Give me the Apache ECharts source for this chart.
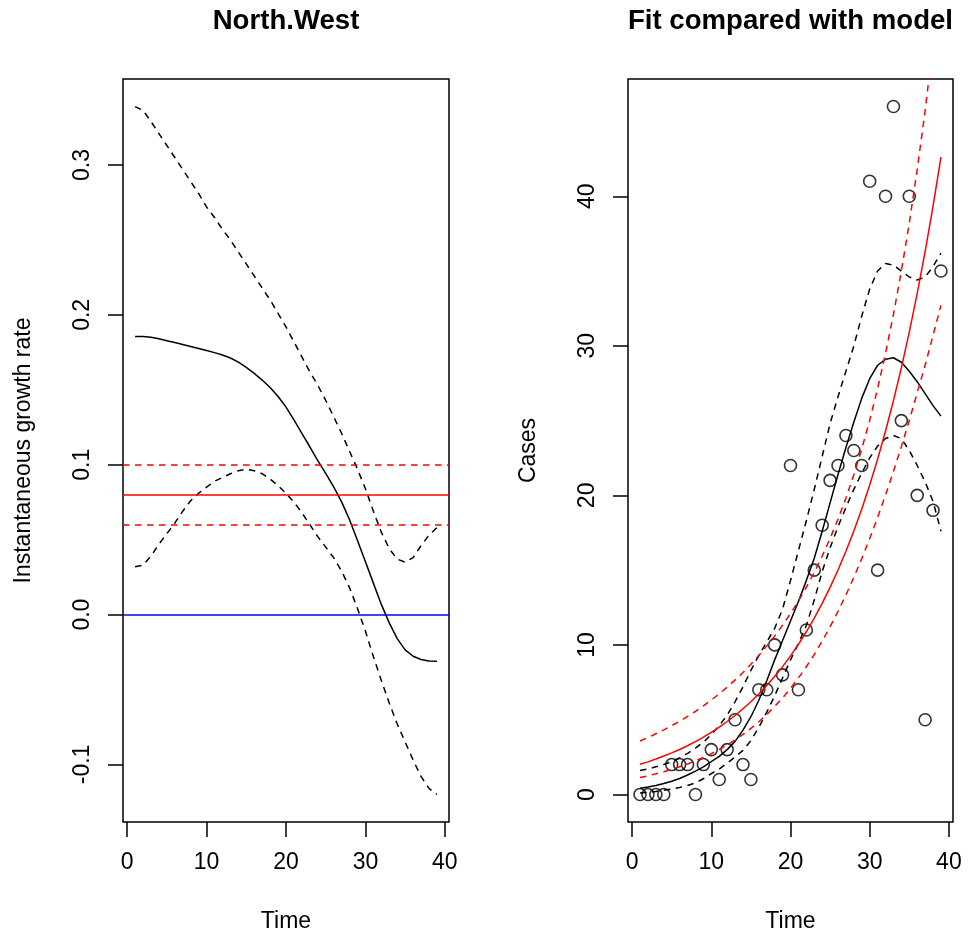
<!DOCTYPE html>
<html>
<head>
<meta charset="utf-8">
<script src="https://cdn.jsdelivr.net/npm/echarts@6/dist/echarts.min.js"></script>
<style>
html,body{margin:0;padding:0;background:#fff;}
#c{width:968px;height:940px;}
</style>
</head>
<body>
<div id="c"></div>
<script>
// ---------- data ----------
const time = [1,2,3,4,5,6,7,8,9,10,11,12,13,14,15,16,17,18,19,20,21,22,23,24,25,26,27,28,29,30,31,32,33,34,35,36,37,38,39];

// left panel: instantaneous growth rate
const growthEst = [0.1856,0.1855,0.1850,0.1840,0.1828,0.1815,0.1802,0.1789,0.1776,0.1762,0.1748,0.1732,0.1712,0.1685,0.1650,0.1610,0.1565,0.1515,0.1455,0.1385,0.1300,0.1210,0.1120,0.1028,0.0942,0.0852,0.0752,0.0633,0.0495,0.0352,0.0210,0.0068,-0.0055,-0.0160,-0.0235,-0.0278,-0.0300,-0.0310,-0.0312];
const growthUpper = [0.339,0.3365,0.329,0.321,0.313,0.305,0.297,0.289,0.281,0.272,0.265,0.257,0.250,0.242,0.234,0.226,0.218,0.210,0.201,0.192,0.182,0.172,0.162,0.153,0.143,0.132,0.121,0.109,0.097,0.084,0.069,0.055,0.044,0.037,0.035,0.038,0.046,0.053,0.058];
const growthLower = [0.032,0.033,0.039,0.047,0.054,0.061,0.069,0.076,0.081,0.085,0.089,0.0915,0.094,0.096,0.097,0.096,0.094,0.0905,0.086,0.081,0.075,0.068,0.060,0.052,0.045,0.038,0.029,0.018,0.004,-0.011,-0.028,-0.044,-0.059,-0.073,-0.085,-0.097,-0.108,-0.116,-0.120];
const modelRate = 0.0805;
const modelRateLower = 0.0618;
const modelRateUpper = 0.1005;
const zeroRate = 0;

// right panel: cases, fit and model
const cases = [0,0,0,0,2,2,2,0,2,3,1,3,5,2,1,7,7,10,8,22,7,11,15,18,21,22,24,23,22,41,15,40,46,25,40,20,5,19,35];
const fitMean = [0.41,0.5,0.6,0.73,0.88,1.07,1.3,1.56,1.85,2.2,2.55,3.0,3.55,4.3,5.2,6.3,7.6,9.0,10.3,11.6,12.9,14.3,15.8,17.6,19.5,21.4,23.2,24.9,26.5,27.8,28.7,29.1,29.2,28.9,28.3,27.6,26.8,26.0,25.3];
const fitUpper = [1.6,1.7,1.85,2.0,2.2,2.45,2.75,3.1,3.5,4.0,4.6,5.3,6.2,7.2,8.3,9.3,10.2,11.1,12.4,14.3,16.3,18.3,20.4,22.6,24.8,26.6,28.3,30.0,32.0,33.8,35.0,35.5,35.4,35.0,34.6,34.4,34.6,35.3,36.2];
const fitLower = [0.1,0.14,0.2,0.28,0.37,0.47,0.6,0.78,1.05,1.4,1.7,2.09,2.5,2.95,3.6,4.5,5.5,6.6,7.8,9.0,10.1,11.3,13.0,14.9,16.5,17.9,19.2,20.4,21.5,22.5,23.3,23.8,24.0,23.8,23.0,22.0,20.9,19.6,17.6];
const modelMean = [2.02,2.18,2.37,2.57,2.78,3.01,3.26,3.54,3.83,4.15,4.50,4.88,5.28,5.73,6.20,6.72,7.29,7.89,8.55,9.27,10.04,10.88,11.79,12.78,13.85,15.01,16.26,17.62,19.09,20.69,22.42,24.30,26.33,28.53,30.91,33.50,36.30,39.34,42.62];
const modelUpper = [3.58,3.81,4.06,4.32,4.60,4.90,5.22,5.56,5.93,6.32,6.73,7.18,7.65,8.16,8.71,9.29,9.92,10.59,11.32,12.10,12.94,13.86,14.85,15.94,17.12,18.41,19.82,21.38,23.11,25.02,27.14,29.49,32.10,35.00,38.20,41.78,45.72,50.2,55.1];
const modelLower = [1.13,1.25,1.38,1.52,1.68,1.85,2.04,2.25,2.48,2.73,3.01,3.31,3.65,4.02,4.42,4.86,5.35,5.88,6.46,7.10,7.79,8.54,9.36,10.25,11.21,12.24,13.34,14.52,15.77,17.11,18.52,20.02,21.60,23.26,25.01,26.86,28.7,30.7,32.7];

// tick labels
const xTicks = [0,10,20,30,40];
const yTicksLeft = [-0.1,0.0,0.1,0.2,0.3];
const yTicksRight = [0,10,20,30,40];

// titles / labels
const titles = ['North.West','Fit compared with model'];
const xLabel = 'Time';
const yLabels = ['Instantaneous growth rate','Cases'];

// ---------- chart ----------
const FONT = "'Liberation Sans', Arial, Helvetica, sans-serif";
const FS = 23;
const LW = 1.5;
const DASH = [6.5, 5.5];

const pairs = arr => time.map((t, i) => [t, arr[i]]);

function xAxisFor(gi) {
  return {
    type: 'value', gridIndex: gi, min: -0.52, max: 40.52,
    axisLine: {show: false, onZero: false},
    axisTick: {show: true, length: 15, customValues: xTicks, lineStyle: {color: '#000', width: LW}},
    axisLabel: {customValues: xTicks, margin: 29, color: '#000', fontSize: FS, fontFamily: FONT},
    splitLine: {show: false},
    name: xLabel, nameLocation: 'middle', nameGap: 88,
    nameTextStyle: {color: '#000', fontSize: FS, fontFamily: FONT}
  };
}
function yAxisFor(gi, min, max, ticks, fmt, name) {
  return {
    type: 'value', gridIndex: gi, min: min, max: max,
    axisLine: {show: false, onZero: false},
    axisTick: {show: true, length: 15, customValues: ticks, lineStyle: {color: '#000', width: LW}},
    axisLabel: {customValues: ticks, margin: 29, rotate: 90, color: '#000', fontSize: FS, fontFamily: FONT, formatter: fmt},
    splitLine: {show: false},
    name: name, nameLocation: 'middle', nameGap: 88,
    nameTextStyle: {color: '#000', fontSize: FS, fontFamily: FONT}
  };
}
function lineSeries(gi, arr, color, dashed) {
  return {
    type: 'line', xAxisIndex: gi, yAxisIndex: gi, data: pairs(arr),
    showSymbol: false, symbol: 'none', silent: true, clip: true,
    lineStyle: {color: color, width: LW, type: dashed ? DASH : 'solid'}
  };
}

const option = {
  animation: false,
  backgroundColor: '#fff',
  grid: [
    {left: 123, top: 79, width: 326, height: 743, show: true, borderColor: '#000', borderWidth: LW, backgroundColor: 'transparent'},
    {left: 628, top: 79, width: 325, height: 743, show: true, borderColor: '#000', borderWidth: LW, backgroundColor: 'transparent'}
  ],
  xAxis: [xAxisFor(0), xAxisFor(1)],
  yAxis: [
    yAxisFor(0, -0.1384, 0.3574, yTicksLeft, v => Number(v).toFixed(1), yLabels[0]),
    yAxisFor(1, -1.84, 47.84, yTicksRight, v => String(v), yLabels[1])
  ],
  graphic: [
    {type: 'text', x: 286, y: 21, style: {text: titles[0], font: "bold 27.6px " + FONT, fill: '#000', align: 'center', verticalAlign: 'middle', textAlign: 'center', textVerticalAlign: 'middle'}},
    {type: 'text', x: 790.5, y: 21, style: {text: titles[1], font: "bold 27.6px " + FONT, fill: '#000', align: 'center', verticalAlign: 'middle', textAlign: 'center', textVerticalAlign: 'middle'}}
  ],
  series: [
    // left panel
    Object.assign(lineSeries(0, growthEst, '#000', false), {
      markLine: {
        symbol: 'none', silent: true, label: {show: false}, animation: false,
        data: [
          {yAxis: modelRate, lineStyle: {color: '#FF0000', width: LW, type: 'solid'}},
          {yAxis: modelRateLower, lineStyle: {color: '#FF0000', width: LW, type: DASH}},
          {yAxis: modelRateUpper, lineStyle: {color: '#FF0000', width: LW, type: DASH}},
          {yAxis: zeroRate, lineStyle: {color: '#0000FF', width: LW, type: 'solid'}}
        ]
      }
    }),
    lineSeries(0, growthUpper, '#000', true),
    lineSeries(0, growthLower, '#000', true),
    // right panel
    {
      type: 'scatter', xAxisIndex: 1, yAxisIndex: 1, data: pairs(cases),
      symbol: 'circle', symbolSize: 12, silent: true,
      itemStyle: {color: 'rgba(0,0,0,0)', borderColor: '#000', borderWidth: 1.6}
    },
    lineSeries(1, fitMean, '#000', false),
    lineSeries(1, fitUpper, '#000', true),
    lineSeries(1, fitLower, '#000', true),
    lineSeries(1, modelMean, '#FF0000', false),
    lineSeries(1, modelUpper, '#FF0000', true),
    lineSeries(1, modelLower, '#FF0000', true)
  ]
};

const chart = echarts.init(document.getElementById('c'), null, {renderer: 'canvas'});
chart.setOption(option);
</script>
</body>
</html>
